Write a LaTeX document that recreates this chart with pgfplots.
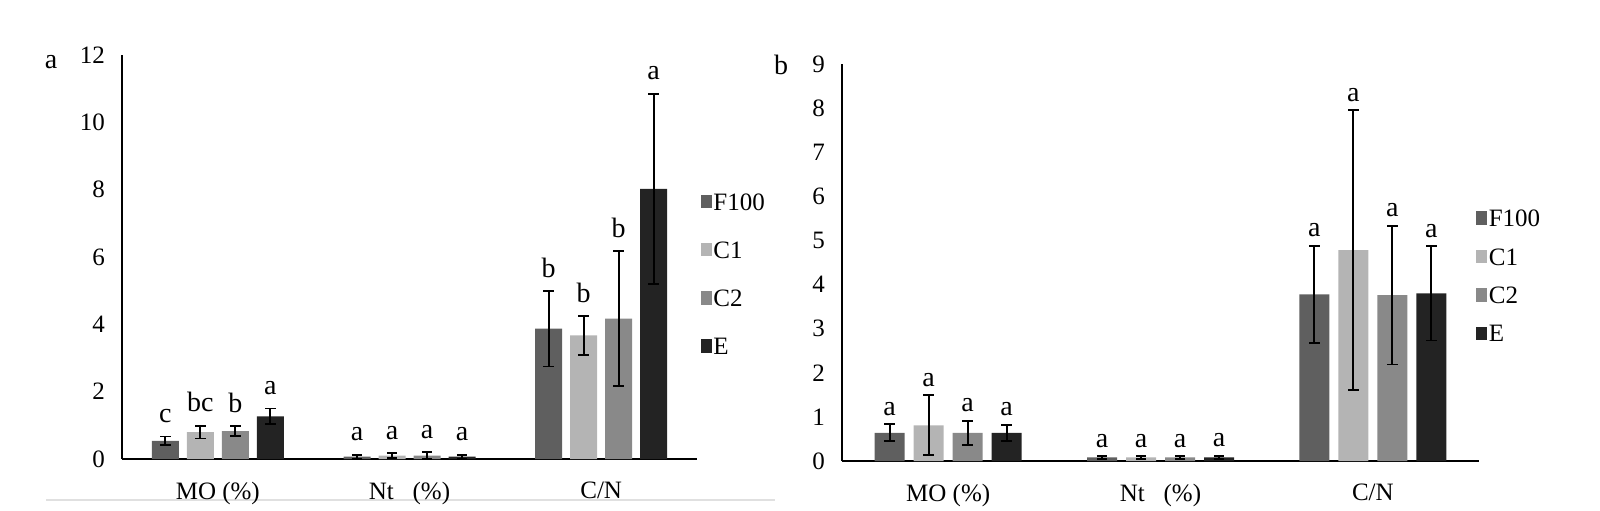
\documentclass[border=0pt]{standalone}
\usepackage{fontspec}
\setmainfont{Liberation Serif}
\usepackage{pgfplots}
\usepackage{pgfplotstable}
\pgfplotsset{compat=1.18}

\definecolor{cF}{HTML}{5F5F5F}
\definecolor{cCa}{HTML}{B4B4B4}
\definecolor{cCb}{HTML}{898989}
\definecolor{cE}{HTML}{232323}

% panel a
\pgfplotstableread{
x y e lab
0 0.54 0.13 c
1 0.07 0.06 a
2 3.87 1.12 b
}\aF
\pgfplotstableread{
x y e lab
0 0.80 0.19 bc
1 0.10 0.07 a
2 3.67 0.57 b
}\aCa
\pgfplotstableread{
x y e lab
0 0.83 0.14 b
1 0.10 0.10 a
2 4.17 2.00 b
}\aCb
\pgfplotstableread{
x y e lab
0 1.27 0.23 a
1 0.07 0.06 a
2 8.02 2.83 a
}\aE
% panel b
\pgfplotstableread{
x y e lab
0 0.64 0.19 a
1 0.08 0.03 a
2 3.78 1.10 a
}\bF
\pgfplotstableread{
x y e lab
0 0.81 0.68 a
1 0.08 0.03 a
2 4.78 3.17 a
}\bCa
\pgfplotstableread{
x y e lab
0 0.64 0.27 a
1 0.08 0.03 a
2 3.76 1.57 a
}\bCb
\pgfplotstableread{
x y e lab
0 0.64 0.18 a
1 0.08 0.04 a
2 3.80 1.07 a
}\bE

\pgfplotsset{
  panel/.style={
    scale only axis, clip=false,
    axis x line*=bottom, axis y line*=left,
    axis line style={line width=0.9pt, black},
    xmin=-0.5, xmax=2.5, ymin=0,
    xtick={0,1,2}, xticklabels={MO (\%), Nt\ \ \ (\%), C/N},
    major tick length=0pt,
    tick label style={font=\fontsize{12.5}{14}\selectfont},
    /pgf/number format/assume math mode=true,
    xticklabel style={yshift=-8pt},
    yticklabel style={xshift=-5pt},
    legend style={draw=none, fill=none, font=\fontsize{12.5}{14}\selectfont,
      legend cell align=left, inner sep=0pt,
      nodes={inner sep=0.8pt, text height=8.5pt, text depth=0pt}},
  },
  series/.style n args={3}{fill=#1, draw=none,
    legend image code/.code={\fill[fill=#1] (0pt,-3.3pt) rectangle (5.5pt,3.4pt);},
    nodes near coords, point meta=explicit symbolic,
    visualization depends on={\thisrow{e} \as \err},
    every node near coord/.append style={black, anchor=base, inner sep=0pt,
      font=\fontsize{14}{16}\selectfont, yshift=\err*#2+#3},
    error bars/.cd, y dir=both, y explicit,
    error bar style={line width=0.9pt, black},
    error mark options={rotate=90, line width=0.9pt, mark size=2.6pt, black}},
}

\begin{document}
\begin{tikzpicture}
\path[use as bounding box] (0,0) rectangle (800pt,255pt);
\draw[black!12, line width=1pt] (23pt,5pt) -- (387.5pt,5pt);
\node[font=\fontsize{14}{16}\selectfont, anchor=base] at (25.5pt,221pt) {a};
\node[font=\fontsize{14}{16}\selectfont, anchor=base] at (390.5pt,218pt) {b};

\begin{axis}[panel, at={(61pt,25.5pt)}, anchor=south west,
  width=287.5pt, height=202pt, ymax=12, ytick={0,2,...,12},
  ybar=4pt, bar width=13.5pt,
  legend style={at={(1.006,0.663)}, anchor=north west, row sep=14pt}]
\addplot[series={cF}{16.83pt}{7pt}] table[x=x, y=y, y error=e, meta=lab] {\aF};
\addplot[series={cCa}{16.83pt}{7pt}] table[x=x, y=y, y error=e, meta=lab] {\aCa};
\addplot[series={cCb}{16.83pt}{7pt}] table[x=x, y=y, y error=e, meta=lab] {\aCb};
\addplot[series={cE}{16.83pt}{7pt}] table[x=x, y=y, y error=e, meta=lab] {\aE};
\legend{F100, C1, C2, E}
\end{axis}

\begin{axis}[panel, at={(421pt,24.5pt)}, anchor=south west,
  width=318.5pt, height=198.5pt, ymax=9, ytick={0,1,...,9},
  ybar=4.5pt, bar width=15pt,
  legend style={at={(0.995,0.638)}, anchor=north west, row sep=9.1pt}]
\addplot[series={cF}{22.06pt}{4.5pt}] table[x=x, y=y, y error=e, meta=lab] {\bF};
\addplot[series={cCa}{22.06pt}{4.5pt}] table[x=x, y=y, y error=e, meta=lab] {\bCa};
\addplot[series={cCb}{22.06pt}{4.5pt}] table[x=x, y=y, y error=e, meta=lab] {\bCb};
\addplot[series={cE}{22.06pt}{4.5pt}] table[x=x, y=y, y error=e, meta=lab] {\bE};
\legend{F100, C1, C2, E}
\end{axis}
\end{tikzpicture}
\end{document}
